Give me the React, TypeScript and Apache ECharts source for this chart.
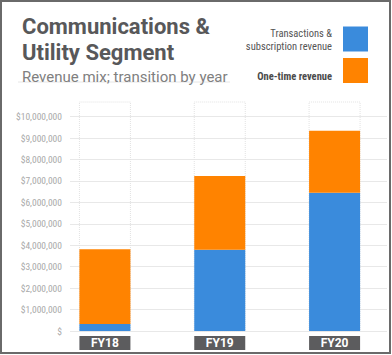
import React, { useEffect, useRef } from 'react';
import * as echarts from 'echarts';

const categories = ['FY18', 'FY19', 'FY20'];
const transactionsRevenue = [330000, 3790000, 6450000];
const oneTimeRevenue = [3480000, 3440000, 2900000];
const seriesNames = ['Transactions &\nsubscription revenue', 'One-time revenue'];
const titleText = 'Communications &\nUtility Segment';
const subtitleText = 'Revenue mix; transition by year';
const yMax = 10000000;
const yStep = 1000000;

const BLUE = '#3a8bdc';
const ORANGE = '#ff8300';
const COND = "'Roboto Condensed', 'Liberation Sans Narrow', 'DejaVu Sans Condensed', Roboto, sans-serif";

export default function App() {
  const ref = useRef<HTMLDivElement>(null);
  useEffect(() => {
    if (!ref.current) return;
    const chart = echarts.init(ref.current, undefined, { renderer: 'svg' });
    const fmt = (v: number) => (v === 0 ? '$' : '$' + v.toLocaleString('en-US'));
    chart.setOption({
      animation: false,
      backgroundColor: '#fff',
      title: [
        {
          text: titleText,
          left: 17,
          top: 8,
          textStyle: { fontFamily: 'Roboto', fontWeight: 'bold', fontSize: 22, lineHeight: 26, color: '#58585a' },
        },
        {
          text: subtitleText,
          left: 17,
          top: 63,
          textStyle: { fontFamily: 'Roboto', fontWeight: 'normal', fontSize: 15, lineHeight: 18, color: '#808080' },
        },
      ],
      legend: {
        orient: 'vertical',
        right: 19,
        top: 21,
        itemWidth: 25,
        itemHeight: 25,
        itemGap: 6,
        align: 'right',
        icon: 'rect',
        data: seriesNames,
        formatter: (name: string) => (name === seriesNames[1] ? '{b|' + name + '}' : '{a|' + name + '}'),
        textStyle: {
          rich: {
            a: { fontFamily: COND, fontSize: 10.5, lineHeight: 13, color: '#555555', align: 'right', padding: [2, 6, 0, 0] },
            b: { fontFamily: COND, fontSize: 10.5, lineHeight: 13, color: '#4a4a4a', fontWeight: 'bold', align: 'right', padding: [12, 6, 0, 0] },
          },
        },
      },
      graphic: [
        { type: 'line', shape: { x1: 18, y1: 82, x2: 230, y2: 82 }, style: { stroke: '#e6e6e6', lineWidth: 1 } },
        { type: 'rect', shape: { x: 1, y: 1, width: 389, height: 352 }, style: { fill: 'none', stroke: '#6a6a6a', lineWidth: 2 }, z: 100 },
      ],
      grid: [
        { left: 70, right: 5, top: 116.7, bottom: 24 },
        { left: 47.5, width: 360, top: 116.7, bottom: 24 },
        { left: 47.5, width: 360, top: 102, bottom: 24 },
      ],
      xAxis: [
        { gridIndex: 0, type: 'value', show: false },
        {
          gridIndex: 1,
          type: 'category',
          data: categories,
          axisLine: { show: false },
          axisTick: { show: false },
          axisLabel: {
            margin: 5,
            color: '#fff',
            fontFamily: 'Roboto',
            fontWeight: 'bold',
            fontSize: 12,
            backgroundColor: '#5c5c5e',
            width: 51,
            height: 14,
            lineHeight: 14,
            align: 'center',
          },
        },
        { gridIndex: 2, type: 'category', data: categories, show: false },
      ],
      yAxis: [
        {
          gridIndex: 0,
          type: 'value',
          min: 0,
          max: yMax,
          interval: yStep,
          axisLine: { show: false },
          axisTick: { show: false },
          splitLine: { lineStyle: { color: '#e8e8e8', width: 1 } },
          axisLabel: {
            formatter: fmt,
            color: '#a9a9a9',
            fontFamily: COND,
            fontSize: 9.5,
            margin: 8,
            padding: [0, 0, 6, 0],
          },
        },
        { gridIndex: 1, type: 'value', min: 0, max: yMax, show: false, splitLine: { show: false } },
        { gridIndex: 2, type: 'value', min: 0, max: 1, show: false, splitLine: { show: false } },
      ],
      series: [
        {
          type: 'bar',
          xAxisIndex: 2,
          yAxisIndex: 2,
          data: categories.map(() => 0),
          barWidth: 51,
          silent: true,
          showBackground: true,
          backgroundStyle: { color: 'rgba(0,0,0,0)', borderColor: '#e2e2e2', borderWidth: 1, borderType: 'dotted' },
          z: 1,
        },
        {
          name: seriesNames[0],
          type: 'bar',
          stack: 'rev',
          xAxisIndex: 1,
          yAxisIndex: 1,
          barWidth: 51,
          data: transactionsRevenue,
          itemStyle: { color: BLUE },
          z: 3,
        },
        {
          name: seriesNames[1],
          type: 'bar',
          stack: 'rev',
          xAxisIndex: 1,
          yAxisIndex: 1,
          barWidth: 51,
          data: oneTimeRevenue,
          itemStyle: { color: ORANGE },
          z: 3,
        },
      ],
    });
    return () => chart.dispose();
  }, []);
  return <div ref={ref} style={{ position: 'fixed', left: 0, top: 0, width: 392, height: 355 }} />;
}
